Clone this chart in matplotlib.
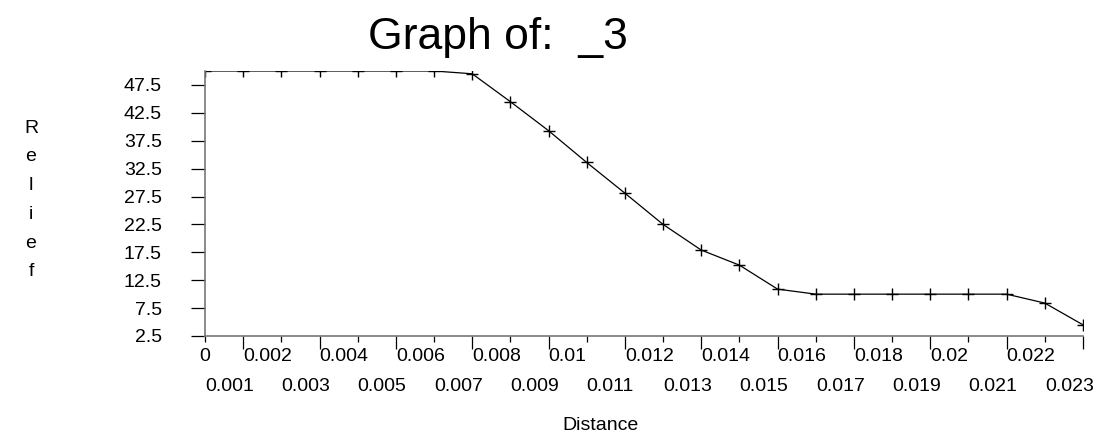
import matplotlib
matplotlib.use("Agg")
import matplotlib.pyplot as plt
import matplotlib.transforms as mtransforms

plt.rcParams["font.family"] = ["Liberation Sans", "DejaVu Sans"]

# data
distance = [0.000, 0.001, 0.002, 0.003, 0.004, 0.005, 0.006, 0.007,
            0.008, 0.009, 0.010, 0.011, 0.012, 0.013, 0.014, 0.015,
            0.016, 0.017, 0.018, 0.019, 0.020, 0.021, 0.022, 0.023]
relief = [50.0, 50.0, 50.0, 50.0, 50.0, 50.0, 50.0, 49.5,
          44.5, 39.3, 33.6, 28.1, 22.5, 17.9, 15.2, 10.9,
          10.0, 10.0, 10.0, 10.0, 10.0, 10.0, 8.4, 4.5]
xtick_labels = ["0", "0.001", "0.002", "0.003", "0.004", "0.005", "0.006",
                "0.007", "0.008", "0.009", "0.01", "0.011", "0.012", "0.013",
                "0.014", "0.015", "0.016", "0.017", "0.018", "0.019", "0.02",
                "0.021", "0.022", "0.023"]
ytick_values = [2.5, 7.5, 12.5, 17.5, 22.5, 27.5, 32.5, 37.5, 42.5, 47.5]

fig = plt.figure(figsize=(11.05, 4.43), dpi=100)
ax = fig.add_axes([205 / 1105, 107 / 443, 878 / 1105, 265 / 443])

ax.plot(distance, relief, color="black", linewidth=0.9,
        marker="+", markersize=9, markeredgewidth=1.0)

ax.set_xlim(distance[0], distance[-1])
ax.set_ylim(2.5, 50)

for side in ["top", "right"]:
    ax.spines[side].set_visible(False)
ax.spines["left"].set_color("#777777")
ax.spines["bottom"].set_color("#777777")
ax.spines["left"].set_linewidth(1.2)
ax.spines["bottom"].set_linewidth(1.2)

ax.set_yticks(ytick_values)
ax.set_yticklabels([f"{v:g}" for v in ytick_values], fontsize=14)
ax.tick_params(axis="y", direction="out", length=10, width=0.9,
               color="black", pad=21)

# x ticks: long at odd positions, short at even ones
ax.set_xticks(distance[1::2])
ax.set_xticks(distance[0::2], minor=True)
ax.set_xticklabels([])
ax.tick_params(axis="x", which="major", direction="out", length=9,
               width=0.9, color="black")
ax.tick_params(axis="x", which="minor", direction="out", length=4.5,
               width=0.9, color="black")

# staggered tick labels, each starting at the previous point
trans = mtransforms.blended_transform_factory(ax.transData, ax.transAxes)
for i, (x, lab) in enumerate(zip(distance, xtick_labels)):
    y = -0.045 if i % 2 == 0 else -0.16
    if i == 0:
        ax.text(x, y, lab, transform=trans, ha="center", va="top", fontsize=14)
    else:
        ax.text(distance[i - 1], y, lab, transform=trans, ha="left",
                va="top", fontsize=14)

fig.text(600 / 1105, 1 - 426 / 443, "Distance", ha="center", va="center",
         fontsize=14)
fig.text(31 / 1105, 1 - 200 / 443, "R\ne\nl\ni\ne\nf", ha="center",
         va="center", fontsize=14, linespacing=1.9)
fig.text(498 / 1105, 1 - 37 / 443, "Graph of:  _3", ha="center",
         va="center", fontsize=32)

fig.savefig("out.png", dpi=100)
